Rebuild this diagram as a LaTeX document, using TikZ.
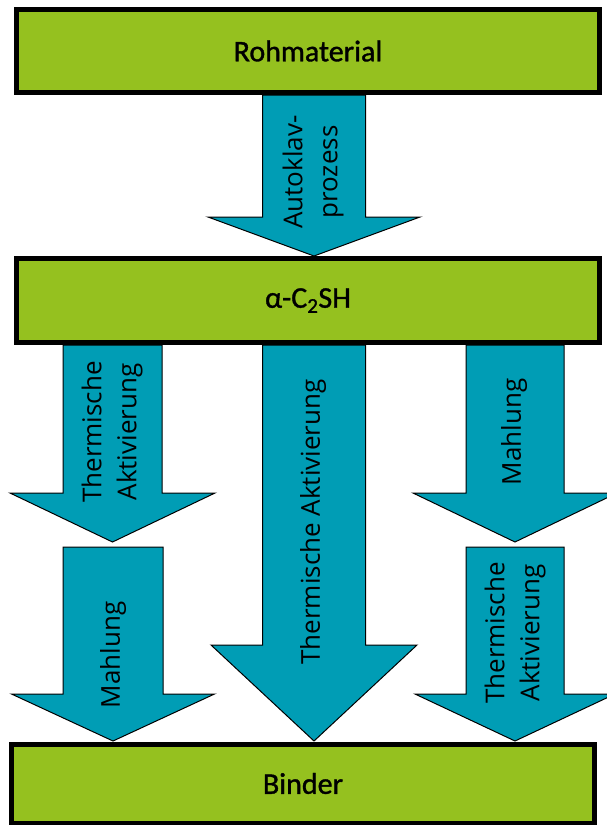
\documentclass[tikz,border=0pt]{standalone}
\usepackage{fontspec}
\setmainfont{Carlito}
\newfontfamily\stagefont[FakeBold=1.2]{Carlito}
\newfontfamily\arrowfont{Open Sans}
\definecolor{stagegreen}{RGB}{149,193,31}
\definecolor{flowblue}{RGB}{0,157,181}

% block arrow: x, top y, head y, tip y, shaft half width, head half width
\newcommand{\flowarrow}[6]{%
  \draw[flowarrow] (#1-#5,#2) -- (#1+#5,#2) -- (#1+#5,#3) -- (#1+#6,#3)
    -- (#1,#4) -- (#1-#6,#3) -- (#1-#5,#3) -- cycle;
}

\begin{document}
\begin{tikzpicture}[x=1pt,y=-1pt,
    stage/.style={draw=black, line width=5pt, fill=stagegreen,
      minimum width=583pt, minimum height=83pt, inner sep=0pt,
      font=\stagefont\fontsize{30}{36}\selectfont},
    flowarrow/.style={draw=black, line width=1pt, fill=flowblue, line join=miter},
    flowlabel/.style={rotate=90, align=center, inner sep=0pt,
      font=\arrowfont\fontsize{26}{35}\selectfont}]
  \useasboundingbox (0,0) rectangle (606,825);

  \node[stage] (raw) at (308,51) {Rohmaterial};
  \node[stage, minimum height=84pt] (csh) at (308,300.5) {α-C\textsubscript{2}SH};
  \node[stage, minimum height=79pt] (binder) at (303,783.5) {Binder};

  \flowarrow{314}{95}{217}{256}{51.5}{106}
  \node[flowlabel] (autoklav) at (313,172) {Autoklav-\\prozess};

  % left way
  \flowarrow{112.5}{345}{493}{542}{49.5}{102.5}
  \node[flowlabel] (leftheat) at (112,432) {Thermische\\Aktivierung};
  \flowarrow{113}{547}{694}{741}{50}{101.5}
  \node[flowlabel] (leftmill) at (113,655) {Mahlung};

  % middle way
  \flowarrow{314}{345}{645}{741}{51.5}{103}
  \node[flowlabel] (midheat) at (313,522) {Thermische Aktivierung};

  % right way
  \flowarrow{515}{345}{493}{542}{49}{102}
  \node[flowlabel] (rightmill) at (514,432) {Mahlung};
  \flowarrow{515}{547}{694}{741}{49}{100}
  \node[flowlabel] (rightheat) at (515,633) {Thermische\\Aktivierung};
\end{tikzpicture}
\end{document}
